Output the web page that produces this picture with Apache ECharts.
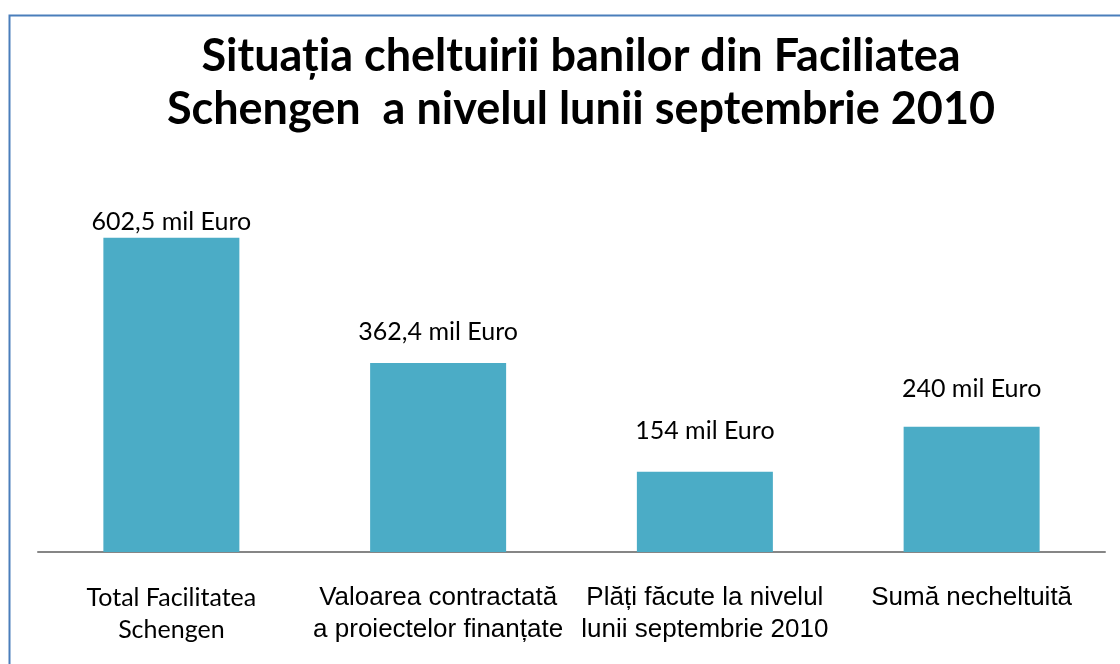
<!DOCTYPE html>
<html>
<head>
<meta charset="utf-8">
<script src="https://cdn.jsdelivr.net/npm/echarts@6/dist/echarts.min.js"></script>
<style>
    html, body { margin: 0; padding: 0; background: #fff; }
    #main { width: 1120px; height: 664px; }
</style>
</head>
<body>
<div id="main"></div>
<script>
    // categories and values (mil Euro)
    let categories = [
        'Total Facilitatea\nSchengen',
        'Valoarea contractată\na proiectelor finanțate',
        'Plăți făcute la nivelul\nlunii septembrie 2010',
        'Sumă necheltuită'
    ]
    let values = [602.5, 362.4, 154, 240]
    let valueLabels = ['602,5 mil Euro', '362,4 mil Euro', '154 mil Euro', '240 mil Euro']
    let labelGaps = [3, 19, 28, 25]

    let myChart = echarts.init(document.getElementById('main'))
    myChart.setOption({
        backgroundColor: '#fff',
        title: {
            text: 'Situația cheltuirii banilor din Faciliatea\nSchengen  a nivelul lunii septembrie 2010',
            left: 576,
            textAlign: 'center',
            top: 25,
            textStyle: {
                fontFamily: 'Lato',
                fontWeight: 'bold',
                fontSize: 45,
                lineHeight: 53,
                color: '#000'
            }
        },
        graphic: [{
            type: 'rect',
            shape: {x: 9.5, y: 15.5, width: 1130, height: 680},
            style: {fill: 'none', stroke: '#4a7ebb', lineWidth: 2}
        }],
        grid: {
            left: 38,
            right: 15,
            top: 187,
            bottom: 112
        },
        xAxis: {
            type: 'category',
            data: categories,
            axisTick: {show: false},
            axisLine: {lineStyle: {color: '#868686', width: 2}},
            axisLabel: {
                margin: 30,
                interval: 0,
                fontFamily: 'Liberation Sans',
                fontSize: 26,
                lineHeight: 32,
                color: '#000',
                formatter: function (v, i) {
                    return i === 0 ? '{c|' + v.split('\n').join('}\n{c|') + '}' : v
                },
                rich: {
                    c: {fontFamily: 'Lato', fontSize: 25, lineHeight: 32, color: '#000'}
                }
            }
        },
        yAxis: {
            type: 'value',
            min: 0,
            max: 700,
            show: false,
            splitLine: {show: false}
        },
        series: [{
            type: 'bar',
            barWidth: 136,
            data: values.map(function (v, i) {
                return {
                    value: v,
                    label: {distance: labelGaps[i]}
                }
            }),
            itemStyle: {color: '#4bacc6'},
            label: {
                show: true,
                position: 'top',
                fontFamily: 'Lato',
                fontSize: 25,
                color: '#000',
                formatter: function (p) {
                    return valueLabels[p.dataIndex]
                }
            }
        }]
    })
</script>
</body>
</html>
